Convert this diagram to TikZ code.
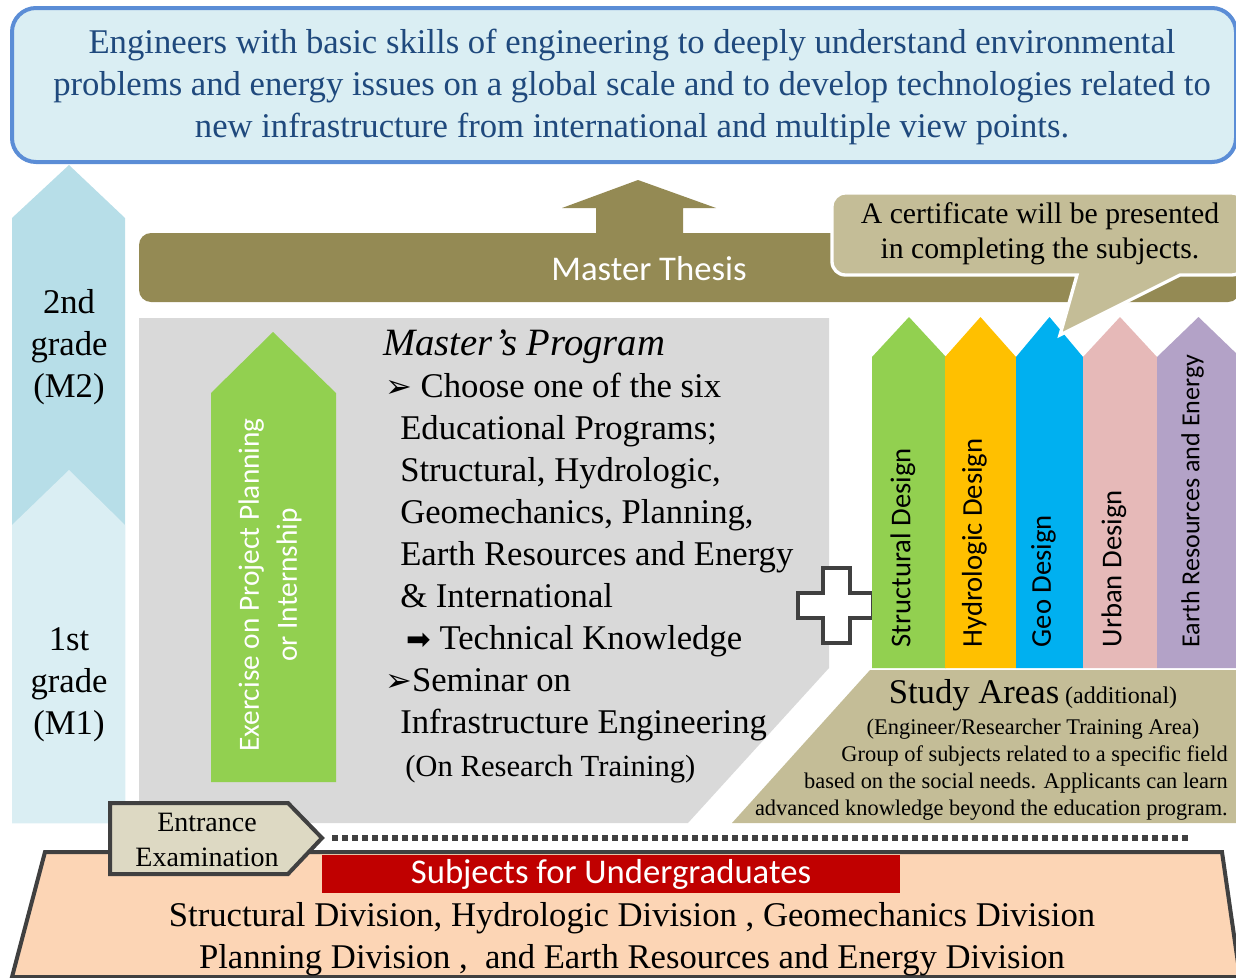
\documentclass[tikz,border=0pt]{standalone}
\usepackage{fontspec}
\setmainfont{Liberation Serif}
\newfontfamily\calibri{Carlito}
\newfontfamily\symfont{DejaVu Sans}
\usepackage{tikz}
\usetikzlibrary{positioning}
\definecolor{goalfill}{HTML}{DAEEF3}
\definecolor{goalline}{HTML}{5B8DD6}
\definecolor{goaltext}{HTML}{1F497D}
\definecolor{gradetwo}{HTML}{B7DEE8}
\definecolor{gradeone}{HTML}{DAEEF3}
\definecolor{thesisolive}{HTML}{948A54}
\definecolor{khaki}{HTML}{C4BD97}
\definecolor{progray}{HTML}{D9D9D9}
\definecolor{leafgreen}{HTML}{92D050}
\definecolor{amber}{HTML}{FFC000}
\definecolor{skyblue}{HTML}{00B0F0}
\definecolor{rosepink}{HTML}{E6B9B8}
\definecolor{lilac}{HTML}{B3A2C7}
\definecolor{examfill}{HTML}{DDD9C3}
\definecolor{darkline}{HTML}{404040}
\definecolor{peach}{HTML}{FCD5B5}
\definecolor{subjred}{HTML}{C00000}

\begin{document}
\begin{tikzpicture}[x=0.75pt,y=-0.75pt,
  bigserif/.style={font=\fontsize{26}{31.5}\selectfont},
  smallserif/.style={font=\fontsize{16.8}{20}\selectfont},
  sanswhite/.style={font=\calibri\fontsize{26}{30}\selectfont, text=white},
  arealabel/.style={rotate=90, anchor=west},
  progline/.style={bigserif, anchor=base west, inner sep=0pt}]
\useasboundingbox (0,0) rectangle (1236,978);

% goal
\draw[goalline, line width=3pt, fill=goalfill, rounded corners=18pt] (12,8) rectangle (1236,162);
\node[bigserif, text=goaltext, align=center] (goal) at (632,87)
  {Engineers with basic skills of engineering to deeply understand environmental\\
   problems and energy issues on a global scale and to develop technologies related to\\
   new infrastructure from international and multiple view points.};

% grades
\fill[gradetwo] (12,823) -- (12,218) -- (69,165) -- (125,218) -- (125,823) -- cycle;
\fill[gradeone] (12,823) -- (12,525) -- (69,470) -- (125,525) -- (125,823) -- cycle;
\node[bigserif, align=center] (m2) at (69,347) {2nd\\grade\\(M2)};
\node[bigserif, align=center] (m1) at (69,685) {1st\\grade\\(M1)};

% master thesis
\fill[thesisolive, rounded corners=9pt] (139,233) rectangle (1240,302);
\fill[thesisolive] (596,234) -- (596,208) -- (562,208) -- (638,180) -- (716,208) -- (683,208) -- (683,234) -- cycle;
\node[sanswhite] (thesis) at (649,269) {Master Thesis};

% master's program
\fill[progray] (139,318) -- (829,318) -- (829,668) -- (688,823) -- (139,823) -- cycle;
\fill[leafgreen] (211,782) -- (211,393) -- (273,332) -- (336,393) -- (336,782) -- cycle;
\node[font=\calibri\fontsize{22}{28.5}\selectfont, text=white, rotate=90, align=center] (exercise) at (270,585)
  {Exercise on Project Planning\\or Internship};
\node[progline, font=\fontsize{29}{32}\itshape] (prog0) at (383,355) {Master's Program};
\node[progline] (prog1) at (385,397) {{\symfont\fontsize{24}{24}\selectfont ➢} Choose one of the six};
\node[progline] (prog2) at (400,439) {Educational Programs;};
\node[progline] (prog3) at (400,481) {Structural, Hydrologic,};
\node[progline] (prog4) at (400,523) {Geomechanics, Planning,};
\node[progline] (prog5) at (400,565) {Earth Resources and Energy};
\node[progline] (prog6) at (400,607) {\& International};
\node[progline] (prog7) at (406,649) {{\symfont\fontsize{22}{24}\selectfont ➡} Technical Knowledge};
\node[progline] (prog8) at (385,691) {{\symfont\fontsize{24}{24}\selectfont ➢}Seminar on};
\node[progline] (prog9) at (400,733) {Infrastructure Engineering};
\node[progline, font=\fontsize{23}{28}\selectfont] (prog10) at (405,776) {(On Research Training)};

% plus
\draw[darkline, line width=3pt, fill=white] (823,568) -- (850,568) -- (850,593) -- (873,593) -- (873,618)
  -- (850,618) -- (850,643) -- (823,643) -- (823,618) -- (798,618) -- (798,593) -- (823,593) -- cycle;

% study areas
\foreach \xl/\xr/\col/\fs/\lbl in {872/946/leafgreen/21.5/Structural Design, 945/1016/amber/21.5/Hydrologic Design,
    1016/1083/skyblue/21.5/Geo Design, 1083/1157/rosepink/21.5/Urban Design, 1157/1240/lilac/19.5/Earth Resources and Energy}{
  \fill[\col] (\xl,668) -- (\xl,357) -- ({(\xl+\xr)/2},317) -- (\xr,357) -- (\xr,668) -- cycle;
  \node[arealabel, font=\calibri\fontsize{\fs}{24}\selectfont] at ({(\xl+\xr)/2-6},652) {\lbl};
}
\fill[khaki] (870,670) -- (1240,670) -- (1240,823) -- (732,823) -- cycle;
\node[anchor=base] (study) at (1033,703)
  {{\fontsize{26}{30}\selectfont Study Areas}{\fontsize{18}{20}\selectfont\ (additional)}};
\node[smallserif, anchor=base] (trainarea) at (1033,734) {(Engineer/Researcher Training Area)};
\node[smallserif, anchor=base east, inner sep=0pt] (group1) at (1228,761) {Group of subjects related to a specific field};
\node[smallserif, anchor=base east, inner sep=0pt] (group2) at (1228,788) {based on the social needs. Applicants can learn};
\node[smallserif, anchor=base east, inner sep=0pt] (group3) at (1228,815) {advanced knowledge beyond the education program.};

% certificate callout
\draw[white, line width=2.5pt, fill=khaki] (1060,335) -- (1180,275) [rounded corners=10pt] -- (1245,275) -- (1245,193)
  -- (832,193) -- (832,275) [sharp corners] -- (1077,275) -- cycle;
\node[font=\fontsize{22.3}{26}\selectfont, align=center] (certificate) at (1040,234)
  {A certificate will be presented\\in completing the subjects.};

% undergraduates
\draw[darkline, line width=3pt, fill=peach] (12,977) -- (45,852) -- (1222,852) -- (1240,977) -- cycle;
\fill[subjred] (322,855) rectangle (900,893);
\node[sanswhite] (subjects) at (611,874) {Subjects for Undergraduates};
\node[bigserif] (div1) at (632,918) {Structural Division, Hydrologic Division , Geomechanics Division};
\node[bigserif] (div2) at (632,960) {Planning Division ,\ \ and Earth Resources and Energy Division};

% entrance
\draw[darkline, line width=3pt, fill=examfill] (110,803) -- (288,803) -- (322,838) -- (288,874) -- (110,874) -- cycle;
\node[font=\fontsize{21}{26}\selectfont, align=center] (exam) at (207,840) {Entrance\\Examination};
\coordinate (dotstart) at (332,838);
\coordinate (dotend) at (1190,838);
\draw[darkline, line width=4.5pt, dash pattern=on 4.5pt off 3pt] (dotstart) -- (dotend);
\end{tikzpicture}
\end{document}
